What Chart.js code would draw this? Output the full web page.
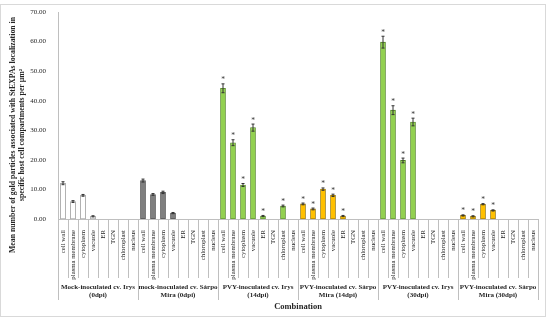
<!DOCTYPE html>
<html>
<head>
<meta charset="utf-8">
<script src="https://cdn.jsdelivr.net/npm/chart.js@4"></script>
<style>
  body { margin: 0; background: #fff; }
  #wrap { width: 550px; height: 324px; }
</style>
</head>
<body>
<div id="wrap"><canvas id="myChart" width="550" height="324"></canvas></div>
<script>
const compartments = ["cell wall", "plasma membrane", "cytoplasm", "vacuole", "ER", "TGN", "chloroplast", "nucleus"];
const groups = [
  ["Mock-inoculated cv. Irys", "(0dpi)"],
  ["mock-inoculated cv. Sárpo", "Mira (0dpi)"],
  ["PVY-inoculated cv. Irys", "(14dpi)"],
  ["PVY-inoculated cv. Sárpo", "Mira (14dpi)"],
  ["PVY-inoculated cv. Irys", "(30dpi)"],
  ["PVY-inoculated cv. Sárpo", "Mira (30dpi)"]
];
const yTicks = [0, 10, 20, 30, 40, 50, 60, 70];

const mockIrys = [12.1, 5.9, 8.0, 0.9, 0, 0, 0, 0];
const mockSarpo = [13.0, 8.3, 9.0, 2.0, 0, 0, 0, 0];
const pvyIrys14 = [44.2, 25.8, 11.5, 30.9, 1.0, 0, 4.4, 0];
const pvySarpo14 = [5.1, 3.4, 10.1, 8.0, 1.0, 0, 0, 0];
const pvyIrys30 = [59.8, 36.8, 19.8, 32.8, 0, 0, 0, 0];
const pvySarpo30 = [1.2, 0.9, 5.0, 2.9, 0, 0, 0, 0];

const errMockIrys = [0.5, 0.3, 0.3, 0.2, 0, 0, 0, 0];
const errMockSarpo = [0.5, 0.3, 0.4, 0.2, 0, 0, 0, 0];
const errPvyIrys14 = [1.5, 1.0, 0.5, 1.2, 0.2, 0, 0.3, 0];
const errPvySarpo14 = [0.3, 0.3, 0.4, 0.4, 0.2, 0, 0, 0];
const errPvyIrys30 = [2.0, 1.5, 0.8, 1.3, 0, 0, 0, 0];
const errPvySarpo30 = [0.2, 0.2, 0.2, 0.2, 0, 0, 0, 0];

// 1 = marked with * as significant
const sigMockIrys = [0, 0, 0, 0, 0, 0, 0, 0];
const sigMockSarpo = [0, 0, 0, 0, 0, 0, 0, 0];
const sigPvyIrys14 = [1, 1, 1, 1, 1, 0, 1, 0];
const sigPvySarpo14 = [1, 1, 1, 1, 1, 0, 0, 0];
const sigPvyIrys30 = [1, 1, 1, 1, 0, 0, 0, 0];
const sigPvySarpo30 = [1, 1, 1, 1, 0, 0, 0, 0];

const fills = ["#ffffff", "#7f7f7f", "#92d050", "#ffc000", "#92d050", "#ffc000"];
const borders = ["#8c8c8c", "#404040", "#4f7f25", "#8a6a00", "#4f7f25", "#8a6a00"];

const values = [].concat(mockIrys, mockSarpo, pvyIrys14, pvySarpo14, pvyIrys30, pvySarpo30);
const errors = [].concat(errMockIrys, errMockSarpo, errPvyIrys14, errPvySarpo14, errPvyIrys30, errPvySarpo30);
const stars = [].concat(sigMockIrys, sigMockSarpo, sigPvyIrys14, sigPvySarpo14, sigPvyIrys30, sigPvySarpo30);
let labels = [];
let barFill = [];
let barBorder = [];
groups.forEach((g, gi) => {
  compartments.forEach((c) => {
    labels.push(c);
    barFill.push(fills[gi]);
    barBorder.push(borders[gi]);
  });
});

const serif = "'Liberation Serif', serif";

const extras = {
  id: "extras",
  afterDatasetsDraw(chart) {
    const ctx = chart.ctx;
    const y = chart.scales.y;
    const meta = chart.getDatasetMeta(0);
    ctx.save();
    // error bars and stars
    meta.data.forEach((bar, i) => {
      const v = values[i];
      const e = errors[i];
      if (!v) return;
      const top = y.getPixelForValue(v + e);
      if (e > 0) {
        const bot = y.getPixelForValue(v - e);
        ctx.strokeStyle = "#333";
        ctx.lineWidth = 1;
        ctx.beginPath();
        ctx.moveTo(bar.x, top);
        ctx.lineTo(bar.x, bot);
        ctx.moveTo(bar.x - 1.5, top);
        ctx.lineTo(bar.x + 1.5, top);
        ctx.moveTo(bar.x - 1.5, bot);
        ctx.lineTo(bar.x + 1.5, bot);
        ctx.stroke();
      }
      if (stars[i]) {
        ctx.fillStyle = "#333";
        ctx.font = "7.5px " + serif;
        ctx.textAlign = "center";
        ctx.textBaseline = "alphabetic";
        ctx.fillText("*", bar.x, top - 1.5);
      }
    });
    ctx.restore();
  },
  afterDraw(chart) {
    const ctx = chart.ctx;
    const x = chart.scales.x;
    const area = chart.chartArea;
    ctx.save();
    // category separators
    ctx.strokeStyle = "#bfbfbf";
    ctx.lineWidth = 1;
    const n = labels.length;
    const step = (x.getPixelForValue(n - 1) - x.getPixelForValue(0)) / (n - 1);
    for (let i = 0; i <= n; i++) {
      const px = Math.round(x.getPixelForValue(0) - step / 2 + i * step) + 0.5;
      const end = i % compartments.length === 0 ? 300 : 278;
      ctx.beginPath();
      ctx.moveTo(px, area.bottom);
      ctx.lineTo(px, end);
      ctx.stroke();
    }
    // group labels
    ctx.fillStyle = "#262626";
    ctx.font = "bold 7px " + serif;
    ctx.textAlign = "center";
    ctx.textBaseline = "middle";
    groups.forEach((g, gi) => {
      const cx = x.getPixelForValue(gi * compartments.length) - step / 2 + step * compartments.length / 2;
      ctx.fillText(g[0], cx, 287);
      ctx.fillText(g[1], cx, 295.5);
    });
    // x title
    ctx.font = "bold 8.5px " + serif;
    ctx.fillText("Combination", (x.left + x.right) / 2, 307);
    // y title
    ctx.translate(17.5, 135);
    ctx.rotate(-Math.PI / 2);
    ctx.font = "bold 7.8px " + serif;
    ctx.fillText("Mean number of gold particles associated with StEXPAs localization in", 0, -4.8);
    ctx.fillText("specific host cell compartments per µm²", 0, 4.8);
    ctx.restore();
    // outer frame
    ctx.save();
    ctx.strokeStyle = "#d9d9d9";
    ctx.lineWidth = 1;
    ctx.strokeRect(0.5, 4.5, 545, 312);
    ctx.restore();
  }
};

function renderChart() {
  const ctx = document.getElementById("myChart");
  new Chart(ctx, {
    type: "bar",
    data: {
      labels: labels,
      datasets: [
        {
          data: values,
          backgroundColor: (c) => (values[c.dataIndex] ? barFill[c.dataIndex] : "rgba(0,0,0,0)"),
          borderColor: (c) => (values[c.dataIndex] ? barBorder[c.dataIndex] : "rgba(0,0,0,0)"),
          borderWidth: (c) => (values[c.dataIndex] ? 0.8 : 0),
          borderSkipped: false,
          barThickness: 5,
        },
      ],
    },
    options: {
      responsive: false,
      animation: false,
      devicePixelRatio: 1,
      layout: { padding: { top: 12, right: 12, left: 0, bottom: 0 } },
      plugins: {
        legend: { display: false },
        tooltip: { enabled: false },
      },
      scales: {
        x: {
          grid: { display: false },
          border: { display: true, color: "#bfbfbf" },
          ticks: {
            autoSkip: false,
            minRotation: 90,
            maxRotation: 90,
            padding: 3,
            color: "#262626",
            font: { family: serif, size: 6.8 },
          },
          afterFit: (s) => { s.height = 105; },
        },
        y: {
          min: 0,
          max: 70,
          afterBuildTicks: (s) => { s.ticks = yTicks.map((v) => ({ value: v })); },
          grid: { display: false },
          border: { display: true, color: "#bfbfbf" },
          ticks: {
            color: "#262626",
            padding: 4,
            font: { family: serif, size: 7 },
            callback: (v) => Number(v).toFixed(2),
          },
          afterFit: (s) => { s.width = 58; },
        },
      },
    },
    plugins: [extras],
  });
}

renderChart();
</script>
</body>
</html>
